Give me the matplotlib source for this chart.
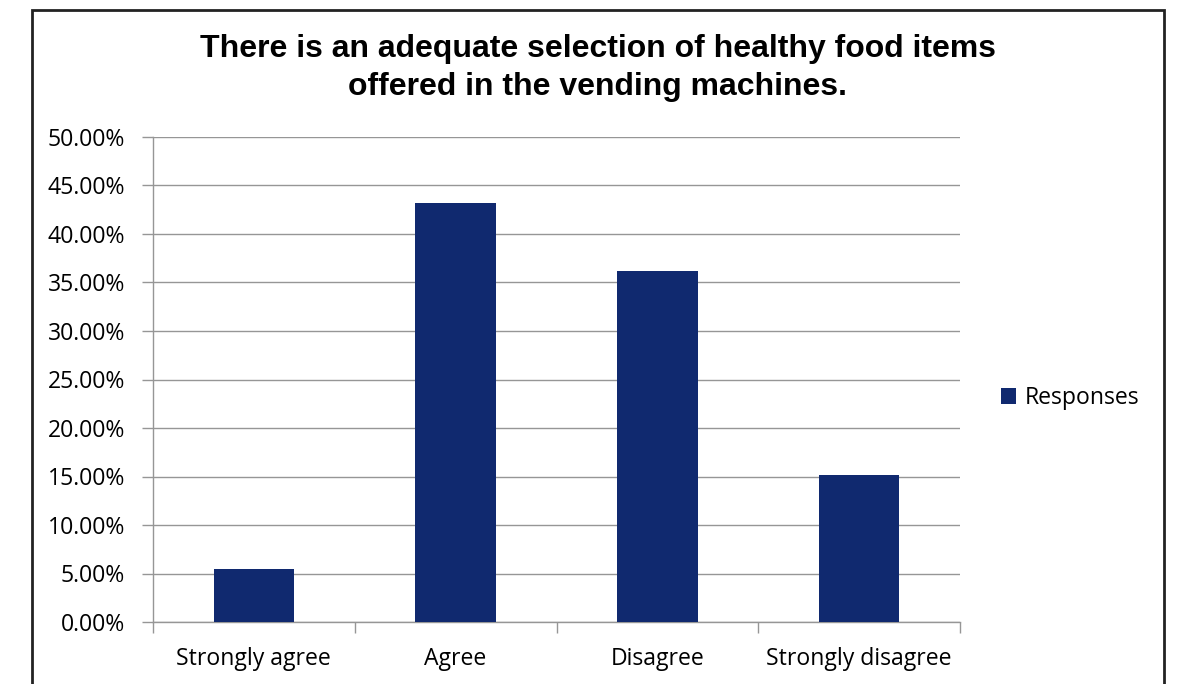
import matplotlib.pyplot as plt
from matplotlib.patches import Rectangle
from matplotlib.ticker import FuncFormatter, MultipleLocator

categories = ['Strongly agree', 'Agree', 'Disagree', 'Strongly disagree']
responses = [5.45, 43.15, 36.15, 15.2]
series_name = 'Responses'
title = 'There is an adequate selection of healthy food items\noffered in the vending machines.'

bar_color = '#10296f'
grid_color = '#969696'
label_font = 'Open Sans'
label_size = 16.6

fig = plt.figure(figsize=(11.77, 6.84), dpi=100)
ax = fig.add_axes([153 / 1177, 1 - 622 / 684, (960 - 153) / 1177, (622 - 137) / 684])

x = range(len(categories))
bars = ax.bar(x, responses, width=0.4, color=bar_color, label=series_name, zorder=3)

ax.set_xlim(-0.5, len(categories) - 0.5)
ax.set_ylim(0, 50)
ax.yaxis.set_major_locator(MultipleLocator(5))
ax.yaxis.set_major_formatter(FuncFormatter(lambda v, p: '{:.2f}%'.format(v)))
ax.grid(axis='y', color=grid_color, linewidth=1, zorder=0)

ax.set_xticks(list(x))
ax.set_xticklabels(categories, fontsize=label_size, family=label_font)
ax.tick_params(axis='x', length=0, pad=18)
# category separators below the axis
ax.set_xticks([i - 0.5 for i in range(len(categories) + 1)], minor=True)
ax.tick_params(axis='x', which='minor', length=8, color=grid_color, width=1)
ax.tick_params(axis='y', length=8, color=grid_color, width=1, labelsize=label_size, pad=12)
for lab in ax.get_yticklabels():
    lab.set_family(label_font)

for side in ['top', 'right']:
    ax.spines[side].set_visible(False)
for side in ['left', 'bottom']:
    ax.spines[side].set_color(grid_color)
    ax.spines[side].set_linewidth(1)

fig.text(598 / 1177, 1 - 68 / 684, title, ha='center', va='center',
         fontsize=23, fontweight='bold', family='Liberation Sans', linespacing=1.35)

leg = fig.legend(handles=[bars], labels=[series_name], loc='center left',
                 bbox_to_anchor=(980 / 1177, 1 - 398 / 684), frameon=False,
                 prop={'family': label_font, 'size': label_size},
                 handlelength=0.65, handleheight=0.65, handletextpad=0.4)

# outer chart border (bottom edge runs off the image)
top = 1 - 10 / 684
fig.patches.append(Rectangle((32 / 1177, -0.1), (1164 - 32) / 1177, top + 0.1,
                             transform=fig.transFigure, fill=False, edgecolor='#222222',
                             linewidth=2))

fig.savefig('out.png', dpi=100)
